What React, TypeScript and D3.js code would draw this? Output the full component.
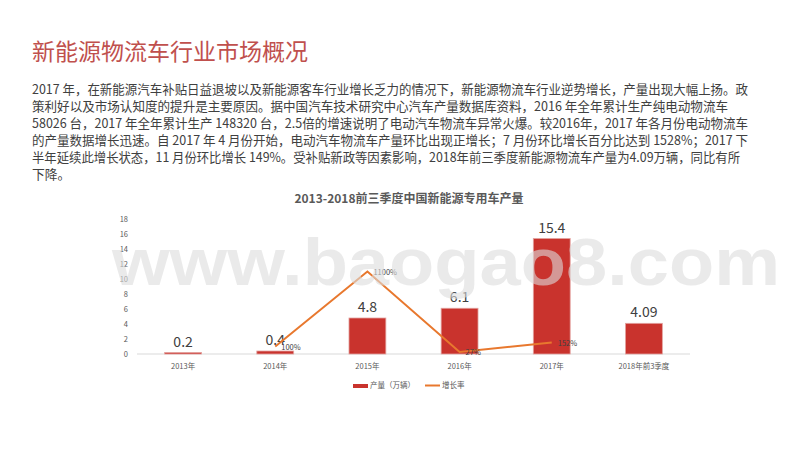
import React from "react";
import * as d3 from "d3";

const categories = ["2013年", "2014年", "2015年", "2016年", "2017年", "2018年前3季度"];
const production = [0.2, 0.4, 4.8, 6.1, 15.4, 4.09];
const productionLabels = ["0.2", "0.4", "4.8", "6.1", "15.4", "4.09"];
const growthCats = ["2014年", "2015年", "2016年", "2017年"];
const growth = [100, 1100, 27, 152];
const growthLabels = ["100%", "1100%", "27%", "152%"];
const yTicks = [0, 2, 4, 6, 8, 10, 12, 14, 16, 18];

const heading = "新能源物流车行业市场概况";
const paragraph = [
  "2017 年，在新能源汽车补贴日益退坡以及新能源客车行业增长乏力的情况下，新能源物流车行业逆势增长，产量出现大幅上扬。政",
  "策利好以及市场认知度的提升是主要原因。据中国汽车技术研究中心汽车产量数据库资料，2016 年全年累计生产纯电动物流车",
  "58026 台，2017 年全年累计生产 148320 台，2.5倍的增速说明了电动汽车物流车异常火爆。较2016年，2017 年各月份电动物流车",
  "的产量数据增长迅速。自 2017 年 4 月份开始，电动汽车物流车产量环比出现正增长；7 月份环比增长百分比达到 1528%；2017 下",
  "半年延续此增长状态，11 月份环比增长 149%。受补贴新政等因素影响，2018年前三季度新能源物流车产量为4.09万辆，同比有所",
  "下降。",
];
const paragraphWidths = [716, 696, 716, 716, 708, 0];
const chartTitle = "2013-2018前三季度中国新能源专用车产量";
const legendItems = ["产量（万辆）", "增长率"];

export default function App() {
  const x = d3.scaleBand<string>().domain(categories).range([137, 690]).paddingInner(0.6).paddingOuter(0.3);
  const y = d3.scaleLinear().domain([0, 18]).range([354, 219]);
  const y2 = d3.scaleLinear().domain([0, 1800]).range([354, 219]);
  const cx = (c: string) => (x(c) as number) + x.bandwidth() / 2;
  const line = d3
    .line<number>()
    .x((_, i) => cx(growthCats[i]))
    .y((d) => y2(d));
  const cjk = "'Noto Sans CJK SC', 'Noto Sans', sans-serif";
  const barColor = "#C9332D";
  const orange = "#E8782E";

  return (
    <svg width={800} height={450} style={{ position: "absolute", left: 0, top: 0, background: "#fff" }} fontFamily={cjk}>
      <rect width={800} height={450} fill="#fff" />
      <text x={32} y={60} fontSize={23} fill="#C0504D">{heading}</text>
      {paragraph.map((t, i) => (
        <text
          key={i}
          x={32}
          y={94 + i * 17}
          fontSize={12.8}
          fill="#404040"
          {...(paragraphWidths[i] ? { textLength: paragraphWidths[i], lengthAdjust: "spacingAndGlyphs" } : {})}
        >
          {t}
        </text>
      ))}
      <text x={409} y={203} textAnchor="middle" fontSize={12} fontWeight="bold" fill="#595959">{chartTitle}</text>

      {yTicks.map((t) => (
        <text key={t} x={128} y={y(t) + 2.5} textAnchor="end" fontSize={7.5} fill="#595959">{t}</text>
      ))}
      <line x1={137} x2={690} y1={y(0)} y2={y(0)} stroke="#d9d9d9" strokeWidth={1} />

      {categories.map((c, i) => (
        <g key={c}>
          <rect
            x={x(c)}
            y={y(production[i])}
            width={x.bandwidth()}
            height={y(0) - y(production[i])}
            fill={barColor}
            stroke="#e3a3a0"
            strokeWidth={0.8}
          />
          <text x={cx(c)} y={y(production[i]) - 6} textAnchor="middle" fontSize={14} fill="#404040">{productionLabels[i]}</text>
          <text x={cx(c)} y={369} textAnchor="middle" fontSize={7.5} fill="#595959">{c}</text>
        </g>
      ))}

      <path d={line(growth) as string} fill="none" stroke={orange} strokeWidth={2} />
      {growthCats.map((c, i) => (
        <text key={c} x={cx(c) + 6} y={y2(growth[i]) + 3} fontSize={7.5} fill="#404040">{growthLabels[i]}</text>
      ))}

      <rect x={353} y={384} width={15} height={4} fill={barColor} />
      <text x={370} y={388} fontSize={7.5} fill="#595959">{legendItems[0]}</text>
      <line x1={425} x2={440} y1={385.5} y2={385.5} stroke={orange} strokeWidth={2} />
      <text x={442} y={388} fontSize={7.5} fill="#595959">{legendItems[1]}</text>

      <text
        x={112}
        y={285}
        fontSize={66}
        fontWeight="bold"
        fontFamily="'Liberation Sans', Arial, sans-serif"
        fill="#dcdcdc"
        fillOpacity={0.6}
        textLength={668}
        lengthAdjust="spacingAndGlyphs"
      >
        www.baogao8.com
      </text>
    </svg>
  );
}
